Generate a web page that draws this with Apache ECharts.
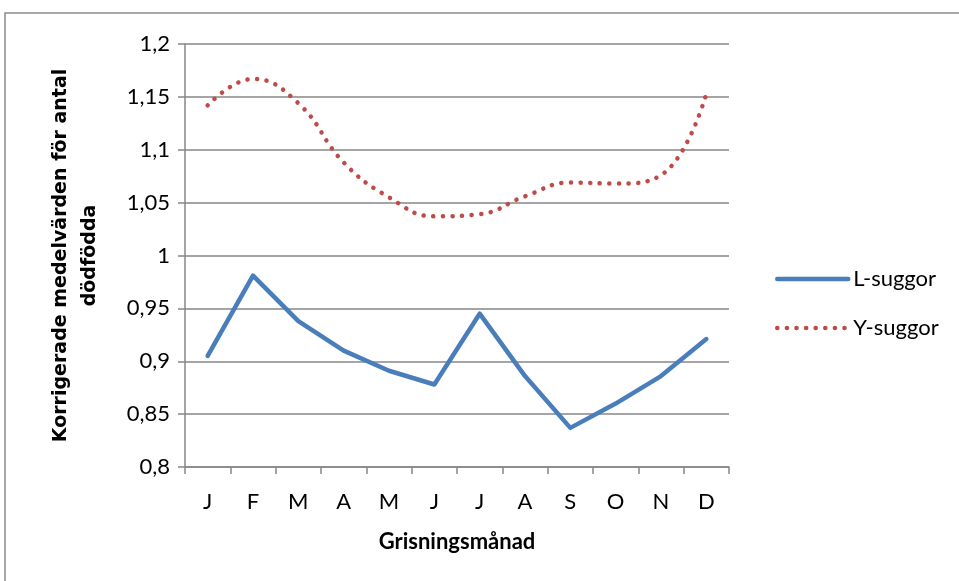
<!DOCTYPE html>
<html>
<head>
<meta charset="utf-8">
<script src="https://cdn.jsdelivr.net/npm/echarts@6/dist/echarts.min.js"></script>
<style>
  html, body { margin: 0; padding: 0; background: #fff; }
  #chart { width: 959px; height: 581px; }
</style>
</head>
<body>
<div id="chart"></div>
<script>
// Months of farrowing (Swedish initials)
const months = ['J', 'F', 'M', 'A', 'M', 'J', 'J', 'A', 'S', 'O', 'N', 'D'];

// Corrected mean number of stillborn piglets per month
const lSuggor = [0.905, 0.981, 0.938, 0.910, 0.891, 0.878, 0.945, 0.886, 0.837, 0.860, 0.886, 0.921];
const ySuggor = [1.142, 1.167, 1.144, 1.088, 1.055, 1.037, 1.039, 1.056, 1.069, 1.068, 1.076, 1.153];

const yTicks = { min: 0.8, max: 1.2, step: 0.05 };

const font = 'Lato, "Open Sans", "Liberation Sans", sans-serif';
const titleFont = '"DejaVu Sans", Verdana, sans-serif';
const gridColor = '#878787';

const chart = echarts.init(document.getElementById('chart'), null, { renderer: 'canvas' });

chart.setOption({
  animation: false,
  backgroundColor: '#ffffff',
  graphic: [{
    type: 'rect',
    shape: { x: 5, y: 13, width: 1000, height: 620 },
    style: { fill: 'none', stroke: '#8c8c8c', lineWidth: 1.5 },
    silent: true
  }],
  grid: { left: 185, right: 230, top: 44, bottom: 114, containLabel: false },
  legend: {
    orient: 'vertical',
    left: 770,
    top: 263,
    itemWidth: 71,
    itemHeight: 14,
    itemGap: 27,
    itemTextGap: 5,
    textStyle: { fontFamily: font, fontSize: 22, color: '#000' },
    itemStyle: { opacity: 0 },
    lineStyle: { width: 4.5 },
    data: ['L-suggor', 'Y-suggor']
  },
  xAxis: {
    type: 'category',
    data: months,
    boundaryGap: true,
    name: 'Grisningsmånad',
    nameLocation: 'middle',
    nameGap: 64,
    nameTextStyle: { fontFamily: font, fontSize: 22, fontWeight: 'bold', color: '#000' },
    axisLine: { lineStyle: { color: gridColor, width: 1.5 } },
    axisTick: { show: true, length: 7, interval: 0, lineStyle: { color: gridColor, width: 1.5 } },
    axisLabel: { fontFamily: font, fontSize: 22, color: '#000', margin: 24, interval: 0 }
  },
  yAxis: {
    type: 'value',
    min: yTicks.min,
    max: yTicks.max,
    interval: yTicks.step,
    name: 'Korrigerade medelvärden för antal\ndödfödda',
    nameLocation: 'middle',
    nameGap: 80,
    nameTextStyle: { fontFamily: titleFont, fontSize: 19, fontWeight: 'bold', color: '#000', lineHeight: 29 },
    axisLine: { show: true, lineStyle: { color: gridColor, width: 1.5 } },
    axisTick: { show: true, length: 7, lineStyle: { color: gridColor, width: 1.5 } },
    axisLabel: {
      fontFamily: font, fontSize: 22, color: '#000', margin: 15,
      formatter: v => String(Math.round(v * 100) / 100).replace('.', ',')
    },
    splitLine: { show: true, lineStyle: { color: gridColor, width: 1.5 } }
  },
  series: [
    {
      name: 'L-suggor',
      type: 'line',
      data: lSuggor,
      symbol: 'none',
      showSymbol: false,
      smooth: false,
      color: '#4a7ebb',
      lineStyle: { color: '#4a7ebb', width: 4.5, cap: 'round', join: 'round' }
    },
    {
      name: 'Y-suggor',
      type: 'line',
      data: ySuggor,
      symbol: 'none',
      showSymbol: false,
      smooth: 0.45,
      color: '#be4b48',
      lineStyle: { color: '#be4b48', width: 4.5, type: [0.1, 9.5], cap: 'round' }
    }
  ]
});
</script>
</body>
</html>
